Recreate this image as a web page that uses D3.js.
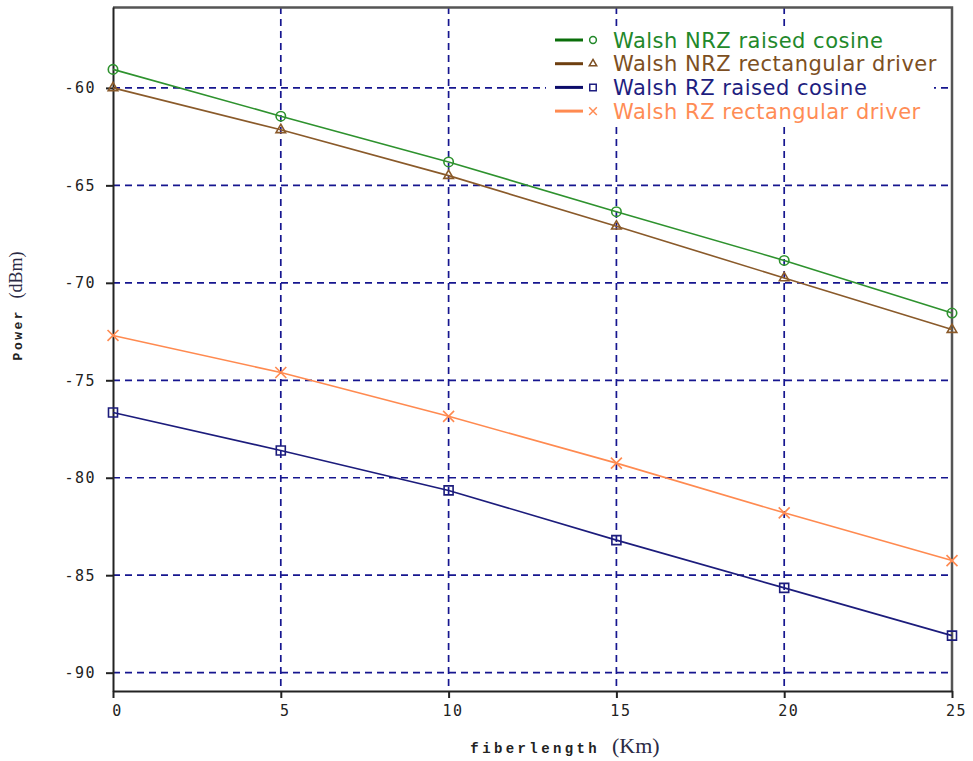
<!DOCTYPE html>
<html>
<head>
<meta charset="utf-8">
<script src="https://cdn.jsdelivr.net/npm/d3@7"></script>
<style>
  body { margin: 0; background: #fff; }
  svg { display: block; }
</style>
</head>
<body>
<svg id="chart"></svg>
<script>
// data
const fiberLengths = [0, 5, 10, 15, 20, 25]
const nrzRaisedCosine = [-59.05, -61.45, -63.8, -66.35, -68.85, -71.55]
const nrzRectDriver = [-60.0, -62.15, -64.5, -67.1, -69.75, -72.4]
const rzRaisedCosine = [-76.65, -78.6, -80.65, -83.2, -85.65, -88.1]
const rzRectDriver = [-72.7, -74.6, -76.85, -79.25, -81.8, -84.25]
const seriesNames = ["Walsh NRZ raised cosine", "Walsh NRZ rectangular driver", "Walsh RZ raised cosine", "Walsh RZ rectangular driver"]
const xTicks = [0, 5, 10, 15, 20, 25]
const yTicks = [-60, -65, -70, -75, -80, -85, -90]

const W = 973, H = 761
const margin = {top: 7, right: 21, bottom: 70, left: 113}
const width = W - margin.left - margin.right
const height = H - margin.top - margin.bottom

const series = [
  {name: seriesNames[0], values: nrzRaisedCosine, line: "#2e922e", legend: "#0a6e0a", text: "#22882a", symbol: d3.symbolCircle, size: 70, lsize: 36},
  {name: seriesNames[1], values: nrzRectDriver, line: "#8a5a2a", legend: "#6e3f10", text: "#7d4f22", symbol: d3.symbolTriangle, size: 40, lsize: 24},
  {name: seriesNames[2], values: rzRaisedCosine, line: "#1c1c7c", legend: "#0c0c6a", text: "#1e1e80", symbol: d3.symbolSquare, size: 81, lsize: 42},
  {name: seriesNames[3], values: rzRectDriver, line: "#ff8a50", legend: "#ff8a50", text: "#ff8c55", symbol: d3.symbolX, size: 80, lsize: 40},
]

const svg = d3.select("#chart").attr("width", W).attr("height", H)
const g = svg.append("g").attr("transform", `translate(${margin.left}, ${margin.top})`)

const xScale = d3.scaleLinear().domain([0, 25]).range([0, width])
const yScale = d3.scaleLinear().domain([-90.94, -55.85]).range([height, 0])

// grid
g.selectAll(".hgrid").data(yTicks).enter().append("line")
  .attr("x1", 0).attr("x2", width)
  .attr("y1", d => yScale(d)).attr("y2", d => yScale(d))
  .attr("stroke", "#16168f").attr("stroke-width", 1.7).attr("stroke-dasharray", "7,5")
g.selectAll(".vgrid").data(xTicks.slice(1, -1)).enter().append("line")
  .attr("x1", d => xScale(d)).attr("x2", d => xScale(d))
  .attr("y1", 0).attr("y2", height)
  .attr("stroke", "#16168f").attr("stroke-width", 1.7).attr("stroke-dasharray", "7,5")

// frame top / right
g.append("path")
  .attr("d", `M0,0.5H${width}V${height}`)
  .attr("fill", "none").attr("stroke", "#555").attr("stroke-width", 2.5)

// x-axis
const xAxis = g.append("g")
  .attr("transform", `translate(0, ${height})`)
  .call(d3.axisBottom(xScale).tickValues(xTicks).tickSize(7).tickPadding(7).tickSizeOuter(0))
xAxis.select(".domain").attr("stroke", "#222").attr("stroke-width", 2)
xAxis.selectAll(".tick line").attr("stroke", "#222").attr("stroke-width", 2)
xAxis.selectAll("text")
  .attr("fill", "#222").attr("dx", 4)
  .style("font-family", "'DejaVu Sans Mono', monospace").style("font-size", "15px").style("letter-spacing", "1.5px")

// y-axis
const yAxis = g.append("g")
  .call(d3.axisLeft(yScale).tickValues(yTicks).tickSize(7).tickPadding(10).tickSizeOuter(0))
yAxis.select(".domain").attr("stroke", "#222").attr("stroke-width", 2)
yAxis.selectAll(".tick line").attr("stroke", "#222").attr("stroke-width", 2)
yAxis.selectAll("text")
  .attr("fill", "#222")
  .text(d => "-" + Math.abs(d))
  .style("font-family", "'DejaVu Sans Mono', monospace").style("font-size", "15px").style("letter-spacing", "1.5px")

// axis titles
const xTitle = svg.append("text")
  .attr("x", 565).attr("y", 753)
  .attr("text-anchor", "middle").attr("fill", "#222")
xTitle.append("tspan").text("fiberlength ")
  .style("font-family", "'Liberation Mono', monospace").style("font-size", "14px").style("font-weight", "bold").style("letter-spacing", "3.4px")
xTitle.append("tspan").text("(Km)")
  .style("font-family", "'Liberation Serif', serif").style("font-size", "22px").attr("fill", "#2a2a44")

const yTitle = svg.append("text")
  .attr("transform", "translate(22, 306) rotate(-90)")
  .attr("text-anchor", "middle").attr("fill", "#222")
yTitle.append("tspan").text("Power ")
  .style("font-family", "'Liberation Mono', monospace").style("font-size", "13px").style("font-weight", "bold").style("letter-spacing", "2.5px")
yTitle.append("tspan").text("(dBm)")
  .style("font-family", "'Liberation Serif', serif").style("font-size", "18px").attr("fill", "#2a2a44")

// lines and markers
const line = d3.line()
  .x((d, i) => xScale(fiberLengths[i]))
  .y(d => yScale(d))

series.forEach((s, k) => {
  g.append("path")
    .datum(s.values)
    .attr("fill", "none")
    .attr("stroke", s.line)
    .attr("stroke-width", 1.6)
    .attr("d", line)
  g.selectAll(`.marker${k}`)
    .data(s.values)
    .enter()
    .append("path")
    .attr("class", `marker${k}`)
    .attr("transform", (d, i) => `translate(${xScale(fiberLengths[i])}, ${yScale(d)})`)
    .attr("d", d3.symbol().type(s.symbol).size(s.size))
    .attr("fill", "none")
    .attr("stroke", s.line)
    .attr("stroke-width", 1.6)
})

// legend
const legend = svg.append("g")
legend.append("rect")
  .attr("x", 546).attr("y", 27).attr("width", 388).attr("height", 97)
  .attr("fill", "#fff")
series.forEach((s, k) => {
  const cy = 40 + k * 23.7
  legend.append("line")
    .attr("x1", 555).attr("x2", 583).attr("y1", cy).attr("y2", cy)
    .attr("stroke", s.legend).attr("stroke-width", 3)
  legend.append("path")
    .attr("transform", `translate(593, ${cy})`)
    .attr("d", d3.symbol().type(s.symbol).size(s.lsize))
    .attr("fill", "none").attr("stroke", s.text).attr("stroke-width", 1.5)
  legend.append("text")
    .attr("x", 613).attr("y", cy + 7.5)
    .attr("fill", s.text)
    .style("font-family", "'DejaVu Sans', sans-serif").style("font-size", "21px").style("letter-spacing", "0.5px")
    .text(s.name)
})
</script>
</body>
</html>
